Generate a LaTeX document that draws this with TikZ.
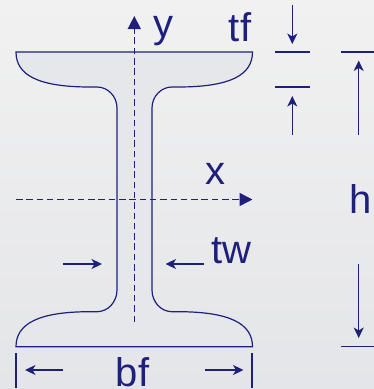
\documentclass[tikz,border=0pt]{standalone}
\usepackage{fontspec}
\setmainfont{Liberation Sans}
\usetikzlibrary{arrows.meta}
\definecolor{navy}{HTML}{1F1F7C}
\definecolor{bgtop}{HTML}{F1F1F1}
\definecolor{bgbottom}{HTML}{E4E5E8}
\definecolor{steel}{HTML}{E6E7EA}
\tikzset{>=latex}
\tikzset{label/.style = {text=navy,font=\fontsize{40}{40}\selectfont,inner sep=0pt}}
\tikzset{outline/.style = {draw=navy,line width=1.2pt,fill=steel}}
\tikzset{edge/.style = {draw=navy,line width=1.3pt}}
\tikzset{axis/.style = {edge,line width=1.5pt,dash pattern=on 6.5pt off 3.8pt,-{Triangle[length=13pt,width=13pt]}}}
\tikzset{dim/.style = {edge,-{Stealth[length=10.5pt,width=10pt,inset=3pt]}}}
\begin{document}
\begin{tikzpicture}[x=1pt,y=-1pt]
            % Background
            \useasboundingbox (0,0) rectangle (374,389);
            \shade[top color=bgtop,bottom color=bgbottom] (0,0) rectangle (374,389);

            % Section
            \draw[outline] (16,52) -- (252.5,52)
                .. controls (252.5,75) and (230.5,87) .. (178,87) -- (172,87)
                .. controls (161,87) and (152,96.5) .. (152,108)
                -- (152,290)
                .. controls (152,302) and (161,311.7) .. (172,311.7) -- (178,311.7)
                .. controls (230.5,311.7) and (252.5,324) .. (252.5,346.7)
                -- (16,346.7)
                .. controls (16,324) and (38,311.7) .. (90,311.7) -- (97,311.7)
                .. controls (108,311.7) and (117,302) .. (117,290)
                -- (117,108)
                .. controls (117,96.5) and (108,87) .. (97,87) -- (90,87)
                .. controls (38,87) and (16,75) .. cycle;

            % Axes
            \coordinate (ybottom) at (134.3,322);
            \coordinate (ytop) at (134.3,16);
            \coordinate (xleft) at (16,199.5);
            \coordinate (xright) at (252.5,199.5);
            \draw[axis] (ybottom) -- (ytop);
            \draw[axis] (xleft) -- (xright);

            % tf
            \coordinate (tfa) at (275,52);
            \coordinate (tfb) at (310,52);
            \coordinate (tfc) at (275,87);
            \coordinate (tfd) at (310,87);
            \coordinate (tfe) at (292.3,5);
            \coordinate (tff) at (292.3,44);
            \coordinate (tfg) at (292.3,135);
            \coordinate (tfh) at (292.3,96);
            \draw[edge] (tfa) -- (tfb);
            \draw[edge] (tfc) -- (tfd);
            \draw[dim] (tfe) -- (tff);
            \draw[dim] (tfg) -- (tfh);

            % h
            \coordinate (ha) at (341,52);
            \coordinate (hb) at (374,52);
            \coordinate (hc) at (341,346.7);
            \coordinate (hd) at (374,346.7);
            \coordinate (he) at (358.7,135);
            \coordinate (hf) at (358.7,60.5);
            \coordinate (hg) at (358.7,264);
            \coordinate (hh) at (358.7,338);
            \draw[edge] (ha) -- (hb);
            \draw[edge] (hc) -- (hd);
            \draw[dim] (he) -- (hf);
            \draw[dim] (hg) -- (hh);

            % tw
            \coordinate (twa) at (63,264);
            \coordinate (twb) at (102,264);
            \coordinate (twc) at (204,264);
            \coordinate (twd) at (165.5,264);
            \draw[dim] (twa) -- (twb);
            \draw[dim] (twc) -- (twd);

            % bf
            \coordinate (bfa) at (16,353);
            \coordinate (bfb) at (16,388);
            \coordinate (bfc) at (252,353);
            \coordinate (bfd) at (252,388);
            \coordinate (bfe) at (63,370);
            \coordinate (bff) at (25,370);
            \coordinate (bfg) at (205,370);
            \coordinate (bfh) at (243.5,370);
            \draw[edge] (bfa) -- (bfb);
            \draw[edge] (bfc) -- (bfd);
            \draw[dim] (bfe) -- (bff);
            \draw[dim] (bfg) -- (bfh);

            % Labels
            \node[label,anchor=base] (ylabel) at (163,37) {y};
            \node[label,anchor=base] (tflabel) at (240,41) {tf};
            \node[label,anchor=base] (xlabel) at (215.5,184) {x};
            \node[label,anchor=base] (hlabel) at (360.5,213) {h};
            \node[label,anchor=base] (twlabel) at (231.5,263) {tw};
            \node[label,anchor=base] (bflabel) at (132.5,386) {bf};
\end{tikzpicture}
\end{document}
